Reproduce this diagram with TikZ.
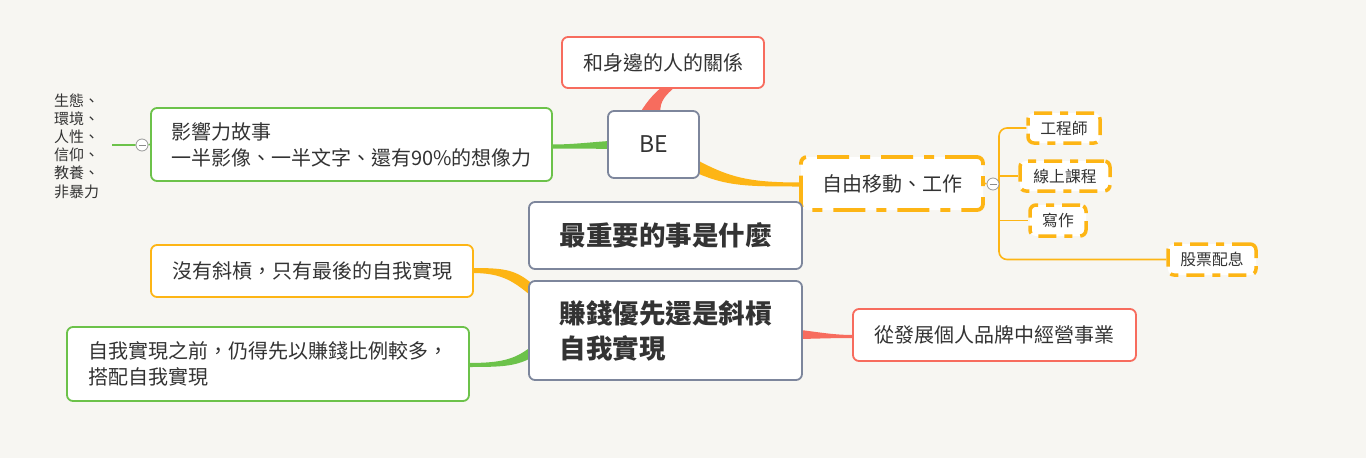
\documentclass[tikz,border=0pt]{standalone}
\usepackage{fontspec}
\setmainfont{Noto Sans CJK TC}
\usetikzlibrary{calc}
\definecolor{bgc}{HTML}{F7F6F2}
\definecolor{cred}{HTML}{F76C5E}
\definecolor{cgreen}{HTML}{6CC24A}
\definecolor{corange}{HTML}{FDB515}
\definecolor{cgray}{HTML}{7D869C}
\definecolor{ctext}{HTML}{333333}
\pgfdeclarelayer{paper}
\pgfdeclarelayer{back}
\pgfsetlayers{paper,back,main}
\begin{document}
\begin{tikzpicture}[x=1pt,y=-1pt,
  box/.style={draw, fill=white, rounded corners=6pt, line width=1.8pt, text=ctext, inner sep=0pt, align=left},
  redbox/.style={box, draw=cred},
  greenbox/.style={box, draw=cgreen},
  orangebox/.style={box, draw=corange},
  graybox/.style={box, draw=cgray},
  dashbox/.style={box, draw=corange, line width=3.8pt, dash pattern=on 32pt off 11pt on 10pt off 11pt},
  smalldash/.style={box, draw=corange, line width=3.5pt, dash pattern=on 18pt off 8pt on 8pt off 8pt},
  reg/.style={font=\fontsize{20}{26}\selectfont},
  big/.style={font=\fontsize{26.5}{35}\selectfont\bfseries},
  small/.style={font=\fontsize{15.8}{18}\selectfont},
  thin/.style={line width=1.6pt},
  collapse/.style={circle, draw=gray!80, fill=white, line width=0.8pt, minimum size=12pt, inner sep=0pt}
]
\begin{pgfonlayer}{paper}
\fill[bgc] (0,0) rectangle (1366,458);
\end{pgfonlayer}
\useasboundingbox (0,0) rectangle (1366,458);

% nodes
\node[redbox, reg, minimum width=202pt, minimum height=51pt] (rel) at (663,62.5) {和身邊的人的關係};
\node[graybox, font=\fontsize{23}{28}\selectfont, minimum width=91pt, minimum height=67pt] (be) at (653.5,144.5) {BE};
\node[greenbox, reg, minimum width=401pt, minimum height=73pt] (story) at (351.5,144.5) {影響力故事\\一半影像、一半文字、還有90\%的想像力};
\node[font=\fontsize{15}{18.2}\selectfont, text=ctext, align=left, inner sep=0pt, anchor=west] (eco) at (54,146) {生態、\\環境、\\人性、\\信仰、\\教養、\\非暴力};
\node[collapse] (c1) at (142,145) {};
\coordinate (c1l) at (112,145);

\node[dashbox, reg, minimum width=182pt, minimum height=53pt] (free) at (892,183.5) {自由移動、工作};
\node[collapse] (c2) at (993,184) {};
\node[smalldash, small, minimum width=72pt, minimum height=30pt] (eng) at (1064,128) {工程師};
\node[smalldash, small, minimum width=90pt, minimum height=30pt] (online) at (1065,176) {線上課程};
\node[smalldash, small, minimum width=56pt, minimum height=31pt] (write) at (1058,220.5) {寫作};
\node[smalldash, small, minimum width=88pt, minimum height=31pt] (stock) at (1212,259.5) {股票配息};

\node[graybox, big, minimum width=273pt, minimum height=67pt] (q) at (665.5,235.5) {最重要的事是什麼};
\node[graybox, big, minimum width=273pt, minimum height=99pt] (money) at (665.5,330.5) {賺錢優先還是斜槓\\自我實現};
\node[orangebox, reg, minimum width=322pt, minimum height=52pt] (noslash) at (312,271) {沒有斜槓，只有最後的自我實現};
\node[greenbox, reg, minimum width=402pt, minimum height=74pt] (before) at (268,364) {自我實現之前，仍得先以賺錢比例較多，\\搭配自我實現};
\node[redbox, reg, minimum width=283pt, minimum height=52pt] (brand) at (994.5,335) {從發展個人品牌中經營事業};

% minus signs in collapse circles
\foreach \c in {c1,c2} {
  \draw[gray!90, line width=0.8pt] ($(\c)+(-3.5,0)$) -- ($(\c)+(3.5,0)$);
}

% tapered connectors
\begin{pgfonlayer}{back}
% BE -> relations
\fill[cred] ($(be.north)+(-13,2)$) .. controls ($(be.north)+(-5,-11)$) and ($(rel.south)+(-8,4)$) .. ($(rel.south)+(-1,-2)$)
  -- ($(rel.south)+(12,-2)$) .. controls ($(rel.south)+(3,6)$) and ($(be.north)+(6,-9)$) .. ($(be.north)+(7,2)$) -- cycle;
% BE -> story
\fill[cgreen] ($(be.west)+(2,-3.5)$) .. controls ($(be.west)+(-20,-2)$) and ($(story.east)+(20,0)$) .. ($(story.east)+(-2,0)$)
  -- ($(story.east)+(-2,4)$) .. controls ($(story.east)+(20,4)$) and ($(be.west)+(-20,4)$) .. ($(be.west)+(2,4.5)$) -- cycle;
% BE -> free
\fill[corange] ($(be.east)+(-2,16)$) .. controls ($(be.east)+(30,33)$) and ($(free.west)+(-50,-1)$) .. ($(free.west)+(2,-1)$)
  -- ($(free.west)+(2,3)$) .. controls ($(free.west)+(-50,3)$) and ($(be.east)+(28,42)$) .. ($(be.east)+(-2,29)$) -- cycle;
% money -> noslash
\fill[corange] ($(money.north west)+(2,2)$) .. controls ($(money.north west)+(-14,-11)$) and ($(noslash.east)+(28,-3)$) .. ($(noslash.east)+(-2,-3)$)
  -- ($(noslash.east)+(-2,2)$) .. controls ($(noslash.east)+(25,2)$) and ($(money.north west)+(-17,-1)$) .. ($(money.north west)+(2,15)$) -- cycle;
% money -> before
\fill[cgreen] ($(money.west)+(2,17)$) .. controls ($(money.west)+(-14,29)$) and ($(before.east)+(31,-1)$) .. ($(before.east)+(-2,-1)$)
  -- ($(before.east)+(-2,3)$) .. controls ($(before.east)+(31,3)$) and ($(money.west)+(-14,36)$) .. ($(money.west)+(2,28)$) -- cycle;
% money -> brand
\fill[cred] ($(money.east)+(-2,-0.5)$) .. controls ($(money.east)+(18,2)$) and ($(brand.west)+(-18,0)$) .. ($(brand.west)+(2,0)$)
  -- ($(brand.west)+(2,3)$) .. controls ($(brand.west)+(-18,3)$) and ($(money.east)+(18,8)$) .. ($(money.east)+(-2,8.5)$) -- cycle;

% thin connectors
\draw[cgreen, thin] (c1l) -- (c1) -- (story.west);
\draw[corange, thin] (free.east) -- (c2);
\coordinate (tr) at (999,184);
\draw[corange, thin, rounded corners=8pt] (eng.west) -- (eng.west -| tr) -- (stock.west -| tr) -- (stock.west);
\draw[corange, thin] (c2) -- (tr);
\draw[corange, thin] (online.west -| tr) -- (online.west);
\draw[corange, thin] (write.west -| tr) -- (write.west);
\end{pgfonlayer}
\end{tikzpicture}
\end{document}
